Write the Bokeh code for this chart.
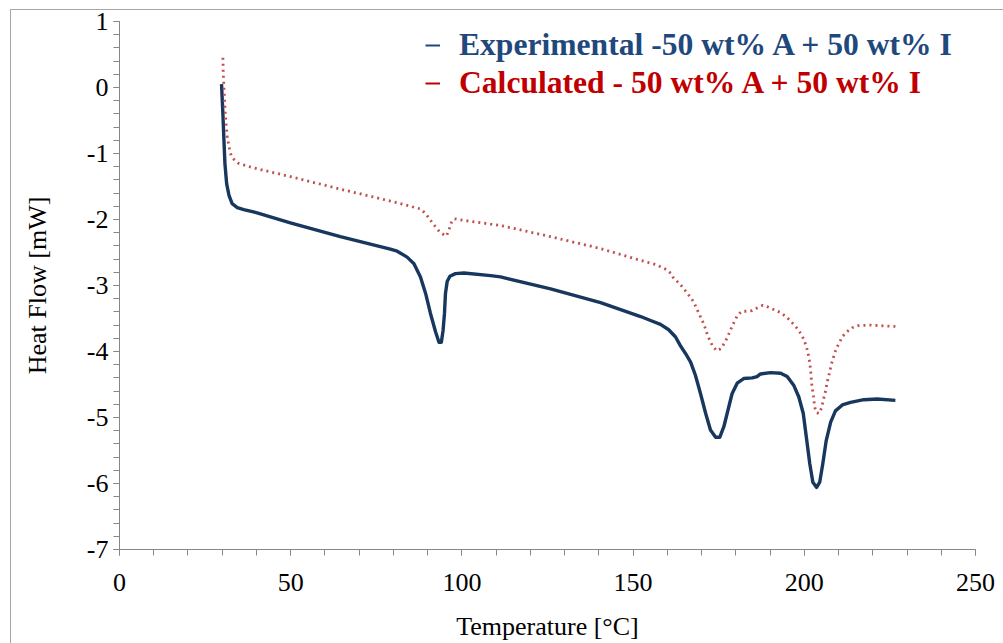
from bokeh.plotting import figure
from bokeh.models import Range1d, SingleIntervalTicker, Legend, LegendItem, PrintfTickFormatter
from bokeh.embed import file_html
from bokeh.resources import INLINE

# Experimental - 50 wt% A + 50 wt% I  (temperature [°C], heat flow [mW])
exp_t = [29.8, 30.2, 30.5, 30.8, 31.3, 32.0, 32.9, 34.4, 36.3, 40.2, 49.9, 64.5, 79.1, 81.1,
         84.0, 86.0, 87.9, 89.4, 90.8, 92.3, 93.3, 94.0, 94.5, 94.9, 95.2, 95.7, 96.5, 98.1,
         100.6, 108.4, 111.3, 125.9, 140.5, 152.2, 155.1, 158.0, 160.4, 162.4, 163.8, 165.3,
         166.8, 168.2, 169.7, 171.2, 172.6, 174.1, 175.3, 176.5, 177.7, 178.9, 180.4, 182.3,
         184.8, 186.2, 187.2, 190.1, 193.1, 195.0, 196.9, 198.4, 199.7, 200.6, 201.6, 202.5,
         203.6, 204.5, 205.4, 206.4, 207.7, 209.1, 211.1, 213.5, 217.4, 221.3, 226.6]
exp_hf = [0.05, -0.40, -0.80, -1.16, -1.46, -1.64, -1.76, -1.82, -1.85, -1.90, -2.05, -2.26,
          -2.45, -2.48, -2.57, -2.67, -2.87, -3.12, -3.42, -3.70, -3.86, -3.86, -3.68, -3.43,
          -3.12, -2.94, -2.86, -2.82, -2.81, -2.85, -2.87, -3.05, -3.26, -3.47, -3.53, -3.59,
          -3.67, -3.78, -3.91, -4.03, -4.16, -4.36, -4.64, -4.94, -5.19, -5.30, -5.30, -5.14,
          -4.89, -4.64, -4.48, -4.41, -4.40, -4.38, -4.34, -4.32, -4.33, -4.38, -4.51, -4.69,
          -4.94, -5.30, -5.70, -5.98, -6.06, -5.98, -5.70, -5.35, -5.07, -4.90, -4.81, -4.77,
          -4.73, -4.72, -4.74]

# Calculated - 50 wt% A + 50 wt% I
calc_t = [30.2, 30.3, 30.5, 30.7, 30.9, 31.2, 31.5, 32.0, 32.6, 33.6, 34.8, 39.3, 49.9, 64.5,
          79.1, 87.9, 89.4, 90.8, 92.3, 93.7, 95.5, 96.2, 96.9, 97.8, 101.5, 108.4, 111.3,
          125.9, 140.5, 152.2, 156.5, 159.8, 161.1, 161.9, 163.4, 165.6, 167.7, 169.2, 170.7,
          171.8, 173.3, 174.6, 175.8, 177.5, 178.9, 180.4, 181.7, 183.3, 184.8, 186.2, 187.9,
          189.6, 191.3, 193.1, 194.3, 195.7, 196.9, 198.1, 199.1, 199.9, 200.5, 201.0, 201.3,
          201.6, 201.8, 202.0, 202.1, 202.3, 202.6, 202.8, 203.0, 203.4, 204.3, 205.1, 205.5,
          206.0, 206.4, 206.7, 207.1, 207.5, 207.9, 208.4, 208.9, 209.6, 210.4, 211.2, 212.5,
          214.0, 215.6, 219.3, 222.7, 226.6]
calc_hf = [0.45, 0.21, 0.00, -0.19, -0.40, -0.60, -0.75, -0.90, -1.03, -1.10, -1.15, -1.22,
           -1.35, -1.54, -1.72, -1.84, -1.91, -2.01, -2.11, -2.20, -2.25, -2.16, -2.05, -1.99,
           -2.02, -2.07, -2.09, -2.26, -2.44, -2.62, -2.68, -2.76, -2.82, -2.90, -2.96, -3.10,
           -3.25, -3.42, -3.59, -3.76, -3.93, -3.99, -3.95, -3.79, -3.62, -3.46, -3.39, -3.39,
           -3.38, -3.34, -3.30, -3.33, -3.37, -3.41, -3.46, -3.52, -3.59, -3.66, -3.74, -3.82,
           -3.91, -4.00, -4.08, -4.17, -4.27, -4.37, -4.46, -4.55, -4.64, -4.73, -4.83, -4.92,
           -4.94, -4.85, -4.74, -4.65, -4.55, -4.46, -4.38, -4.29, -4.19, -4.11, -4.02, -3.93,
           -3.85, -3.77, -3.70, -3.64, -3.61, -3.60, -3.61, -3.62]

series_names = ["Experimental -50 wt% A + 50 wt% I", "Calculated - 50 wt% A + 50 wt% I"]
x_label = "Temperature [°C]"
y_label = "Heat Flow [mW]"

FONT = "Liberation Serif"
AXIS_GREY = "#868686"

border_css = """
:host::after {
  content: "";
  position: absolute;
  left: 10px; top: 9px; width: 1100px; height: 800px;
  border-left: 1px solid #A6A6A6;
  border-top: 1px solid #A6A6A6;
  pointer-events: none;
}
"""

p = figure(width=1003, height=643, output_backend="svg", toolbar_location=None,
           x_range=Range1d(0, 250), y_range=Range1d(-7, 1),
           min_border_left=119, min_border_right=28, min_border_top=21, min_border_bottom=94,
           stylesheets=[border_css])
p.outline_line_color = None
p.xgrid.visible = False
p.ygrid.visible = False
p.background_fill_color = "white"
p.border_fill_color = "white"

p.xaxis.ticker = SingleIntervalTicker(interval=50, num_minor_ticks=5)
p.yaxis.ticker = SingleIntervalTicker(interval=1, num_minor_ticks=5)
p.xaxis.formatter = PrintfTickFormatter(format="%d")
p.yaxis.formatter = PrintfTickFormatter(format="%d")

for ax in (p.xaxis[0], p.yaxis[0]):
    ax.axis_line_color = AXIS_GREY
    ax.major_tick_line_color = AXIS_GREY
    ax.minor_tick_line_color = AXIS_GREY
    ax.major_tick_in = 0
    ax.major_tick_out = 6
    ax.minor_tick_in = 0
    ax.minor_tick_out = 6
    ax.major_label_text_font = FONT
    ax.major_label_text_font_size = "26px"
    ax.major_label_text_color = "black"
    ax.axis_label_text_font = FONT
    ax.axis_label_text_font_size = "26px"
    ax.axis_label_text_font_style = "normal"
    ax.axis_label_text_color = "black"

p.xaxis.axis_label = x_label
p.yaxis.axis_label = y_label
p.xaxis.major_label_standoff = 18
p.yaxis.major_label_standoff = 5
p.xaxis.axis_label_standoff = 18
p.yaxis.axis_label_standoff = 32

p.line(exp_t, exp_hf, line_color="#17375E", line_width=3.4, line_join="round")
p.line(calc_t, calc_hf, line_color="#C0504D", line_width=2.8, line_dash="2 4")

# legend proxies: solid short dashes, as in the reference (points lie off the visible range)
leg_exp = p.line([-100, -90], [-100, -100], line_color="#1F497D", line_width=2)
leg_calc = p.line([-100, -90], [-100, -100], line_color="#C00000", line_width=2)

def make_legend(item_renderer, label, color, loc):
    lg = Legend(items=[LegendItem(label=label, renderers=[item_renderer])], location=loc)
    lg.label_text_font = FONT
    lg.label_text_font_size = "31.6px"
    lg.label_text_font_style = "bold"
    lg.label_text_color = color
    lg.glyph_width = 15
    lg.glyph_height = 36
    lg.label_height = 36
    lg.label_standoff = 19
    lg.padding = 0
    lg.margin = 0
    lg.spacing = 0
    lg.border_line_color = None
    lg.background_fill_alpha = 0
    p.add_layout(lg, "center")

make_legend(leg_exp, series_names[0], "#1F497D", (306, 486))
make_legend(leg_calc, series_names[1], "#C00000", (306, 448))

open("out.html", "w").write(file_html(p, INLINE))
